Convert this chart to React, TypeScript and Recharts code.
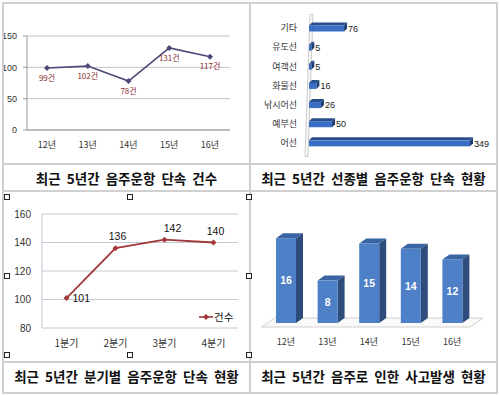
import React from 'react';
import {
  LineChart, Line, BarChart, Bar, XAxis, YAxis, CartesianGrid, LabelList, ReferenceArea, Legend,
} from 'recharts';

// ---------- data ----------
const yearLabels = ['12년', '13년', '14년', '15년', '16년'];
const yearCounts = [99, 102, 78, 131, 117];
const yearTicks = [0, 50, 100, 150];

const vesselTypes = ['기타', '유도선', '여객선', '화물선', '낚시어선', '예부선', '어선'];
const vesselCounts = [76, 5, 5, 16, 26, 50, 349];

const quarterLabels = ['1분기', '2분기', '3분기', '4분기'];
const quarterCounts = [101, 136, 142, 140];
const quarterTicks = [80, 100, 120, 140, 160];
const quarterSeriesName = '건수';

const accidentCounts = [16, 8, 15, 14, 12];

const captions = [
  '최근 5년간 음주운항 단속 건수',
  '최근 5년간 선종별 음주운항 단속 현황',
  '최근 5년간 분기별 음주운항 단속 현황',
  '최근 5년간 음주로 인한 사고발생 현황',
];

const yearData = yearLabels.map((name, i) => ({ name, value: yearCounts[i] }));
const vesselData = vesselTypes.map((name, i) => ({ name, value: vesselCounts[i] }));
const quarterData = quarterLabels.map((name, i) => ({ name, value: quarterCounts[i] }));
const accidentData = yearLabels.map((name, i) => ({ name, value: accidentCounts[i] }));

const FONT = '"Liberation Sans", "Noto Sans CJK KR", sans-serif';
const KFONT = '"Noto Sans CJK KR", "Liberation Sans", sans-serif';

const diamond = (color: string, r: number) => (props: any) => {
  const { cx, cy, index } = props;
  if (cx == null || cy == null) return <g key={index} />;
  return (
    <path key={index} d={`M${cx},${cy - r}L${cx + r},${cy}L${cx},${cy + r}L${cx - r},${cy}Z`} fill={color} />
  );
};

const HBar3D = (props: any) => {
  const { x, y, width, height } = props;
  const d = 3;
  return (
    <g>
      <path d={`M${x},${y}L${x + d},${y - d}L${x + width + d},${y - d}L${x + width},${y}Z`} fill="#2A4F8E" />
      <path d={`M${x + width},${y}L${x + width + d},${y - d}L${x + width + d},${y + height - d}L${x + width},${y + height}Z`} fill="#1E3C70" />
      <rect x={x} y={y} width={width} height={height} fill="#3A6EC4" />
    </g>
  );
};

const VBar3D = (props: any) => {
  const { x, y, width, height } = props;
  const dx = 7;
  const dy = 5;
  return (
    <g>
      <path d={`M${x},${y}L${x + dx},${y - dy}L${x + width + dx},${y - dy}L${x + width},${y}Z`} fill="#3B64A3" />
      <path d={`M${x + width},${y}L${x + width + dx},${y - dy}L${x + width + dx},${y + height - dy}L${x + width},${y + height}Z`} fill="#2D4C7C" />
      <rect x={x} y={y} width={width} height={height} fill="#4D80C6" />
    </g>
  );
};

const Wall = (props: any) => {
  const { x, y, height } = props;
  const yb = y + height + 4;
  const yt = y - 4;
  return (
    <path
      d={`M${x - 4},${yb}L${x - 1},${yb}L${x + 4},${yt}L${x + 1},${yt}Z`}
      fill="#f7f7f7"
      stroke="#b8b8b8"
      strokeWidth={0.7}
    />
  );
};

const Floor = (props: any) => {
  const { x, y, width, height } = props;
  const yb = y + height;
  return (
    <path
      d={`M${x - 3.5},${yb + 4}L${x + 9.5},${yb - 5}L${x + width + 10},${yb - 5}L${x + width - 3},${yb + 4}Z`}
      fill="#fafafa"
      stroke="#c4c4c4"
      strokeWidth={0.8}
    />
  );
};

const QuarterLabel = (props: any) => {
  const { x, y, value, index } = props;
  if (index === 0) {
    return (
      <text x={x + 6} y={y} dy="0.35em" fontSize={10.5} fill="#111" fontFamily={FONT}>{value}</text>
    );
  }
  return (
    <text x={x + (index === 2 ? 8 : 2)} y={y - 8} textAnchor="middle" fontSize={10.5} fill="#111" fontFamily={FONT}>{value}</text>
  );
};

const QuarterLegend = () => (
  <div style={{ display: 'flex', alignItems: 'center', fontFamily: KFONT, fontSize: 10.5, color: '#111' }}>
    <svg width={14} height={8} style={{ marginRight: 1 }}>
      <line x1={0} y1={4} x2={14} y2={4} stroke="#A3383B" strokeWidth={1.6} />
      <path d="M7,1L10,4L7,7L4,4Z" fill="#A3383B" />
    </svg>
    <span>{quarterSeriesName}</span>
  </div>
);

const Handle = ({ left, top }: { left: number; top: number }) => (
  <div style={{ position: 'absolute', left, top, width: 4, height: 4, background: '#fff', border: '1px solid #222' }} />
);

const Caption = ({ text, left, top, width }: { text: string; left: number; top: number; width: number }) => (
  <div
    style={{
      position: 'absolute', left, top, width, height: 26, lineHeight: '26px', textAlign: 'center',
      fontFamily: KFONT, fontWeight: 700, fontSize: 13.5, color: '#111', wordSpacing: 3, whiteSpace: 'nowrap',
    }}
  >
    {text}
  </div>
);

const lineColor = '#D0D0D0';

export default function App() {
  return (
    <div style={{ position: 'absolute', left: 0, top: 0, width: 500, height: 395, background: '#fff', overflow: 'hidden' }}>
      {/* Chart 1 */}
      <div style={{ position: 'absolute', left: 0, top: 0 }}>
        <LineChart width={250} height={164} data={yearData} margin={{ top: 36, right: 20, bottom: 0, left: 0 }}>
          <CartesianGrid vertical={false} stroke="#c4c4c4" />
          <XAxis
            dataKey="name" height={34} tickLine={false} tickSize={0} tickMargin={12} axisLine={{ stroke: '#9a9a9a' }}
            tick={{ fontSize: 9, fill: '#333', fontFamily: KFONT }} interval={0} padding={{ left: 20, right: 20 }}
          />
          <YAxis
            width={27} domain={[0, 150]} ticks={yearTicks} tickSize={4} tickMargin={6}
            axisLine={{ stroke: '#9a9a9a' }} tickLine={{ stroke: '#9a9a9a' }}
            tick={{ fontSize: 9, fill: '#333', fontFamily: FONT }}
          />
          <Line
            type="linear" dataKey="value" stroke="#4E4878" strokeWidth={1.6}
            dot={diamond('#4E4878', 3)} activeDot={false} isAnimationActive={false}
          >
            <LabelList
              dataKey="value" position="bottom" offset={7}
              formatter={(v: any) => `${v}건`}
              style={{ fontSize: 8, fill: '#8B2C2C', fontFamily: KFONT }}
            />
          </Line>
        </LineChart>
      </div>

      {/* Chart 2 */}
      <div style={{ position: 'absolute', left: 250, top: 3 }}>
        <BarChart
          width={247} height={161} data={vesselData} layout="vertical"
          margin={{ top: 15.5, right: 27, bottom: 11.5, left: 0 }} barSize={6}
        >
          <XAxis type="number" domain={[0, 349]} hide />
          <YAxis
            type="category" dataKey="name" width={59} tickLine={false} tickSize={0} axisLine={false} tickMargin={12}
            tick={{ fontSize: 9, fill: '#333', fontFamily: KFONT }} interval={0}
          />
          <ReferenceArea x1={0} x2={3} shape={Wall} />
          <Bar dataKey="value" shape={HBar3D} isAnimationActive={false}>
            <LabelList dataKey="value" position="right" offset={4} style={{ fontSize: 9, fill: '#222', fontFamily: FONT }} />
          </Bar>
        </BarChart>
      </div>

      {/* Chart 3 */}
      <div style={{ position: 'absolute', left: 0, top: 191 }}>
        <LineChart width={250} height={171} data={quarterData} margin={{ top: 23, right: 12, bottom: 0, left: 0 }}>
          <CartesianGrid vertical={false} stroke="#c3cbd4" />
          <XAxis
            dataKey="name" height={34} tickLine={false} tickSize={0} tickMargin={12} axisLine={false}
            tick={{ fontSize: 10, fill: '#333', fontFamily: KFONT }} interval={0} padding={{ left: 24.5, right: 24.5 }}
          />
          <YAxis
            width={42} domain={[80, 160]} ticks={quarterTicks} tickLine={false} tickSize={0} tickMargin={11}
            axisLine={{ stroke: '#c3cbd4' }} tick={{ fontSize: 10, fill: '#333', fontFamily: FONT }}
          />
          <Legend
            content={QuarterLegend} layout="horizontal" verticalAlign="middle" align="center"
            wrapperStyle={{ position: 'absolute', left: 199, top: 118, width: 40 }}
          />
          <Line
            type="linear" dataKey="value" name={quarterSeriesName} stroke="#A3383B" strokeWidth={1.8}
            dot={diamond('#A3383B', 3)} activeDot={false} isAnimationActive={false}
          >
            <LabelList dataKey="value" content={QuarterLabel} />
          </Line>
        </LineChart>
      </div>

      {/* Chart 4 */}
      <div style={{ position: 'absolute', left: 250, top: 191 }}>
        <BarChart width={247} height={171} data={accidentData} margin={{ top: 26, right: 24, bottom: 0, left: 15 }} barSize={20}>
          <XAxis
            dataKey="name" height={39} tickLine={false} tickSize={0} axisLine={false} tickMargin={16}
            tick={{ fontSize: 9, fill: '#333', fontFamily: KFONT }} interval={0}
          />
          <YAxis hide domain={[0, 20]} />
          <ReferenceArea y1={0} y2={0.01} shape={Floor} />
          <Bar dataKey="value" shape={VBar3D} isAnimationActive={false}>
            <LabelList dataKey="value" position="center" style={{ fontSize: 10.5, fontWeight: 700, fill: '#fff', fontFamily: FONT }} />
          </Bar>
        </BarChart>
      </div>

      {/* table lines */}
      <div style={{ position: 'absolute', left: 2, top: 2, width: 492, height: 388, border: `2px solid ${lineColor}` }} />
      <div style={{ position: 'absolute', left: 249, top: 2, width: 2, height: 392, background: lineColor }} />
      <div style={{ position: 'absolute', left: 2, top: 163, width: 496, height: 2, background: lineColor }} />
      <div style={{ position: 'absolute', left: 2, top: 190, width: 496, height: 2, background: lineColor }} />
      <div style={{ position: 'absolute', left: 2, top: 361, width: 496, height: 2, background: lineColor }} />

      <Caption text={captions[0]} left={4} top={165} width={245} />
      <Caption text={captions[1]} left={251} top={165} width={245} />
      <Caption text={captions[2]} left={4} top={363} width={245} />
      <Caption text={captions[3]} left={251} top={363} width={245} />

      {/* selection handles */}
      <Handle left={4} top={194} />
      <Handle left={127} top={194} />
      <Handle left={246} top={194} />
      <Handle left={4} top={273} />
      <Handle left={246} top={273} />
      <Handle left={4} top={352} />
      <Handle left={127} top={352} />
      <Handle left={246} top={352} />
    </div>
  );
}
